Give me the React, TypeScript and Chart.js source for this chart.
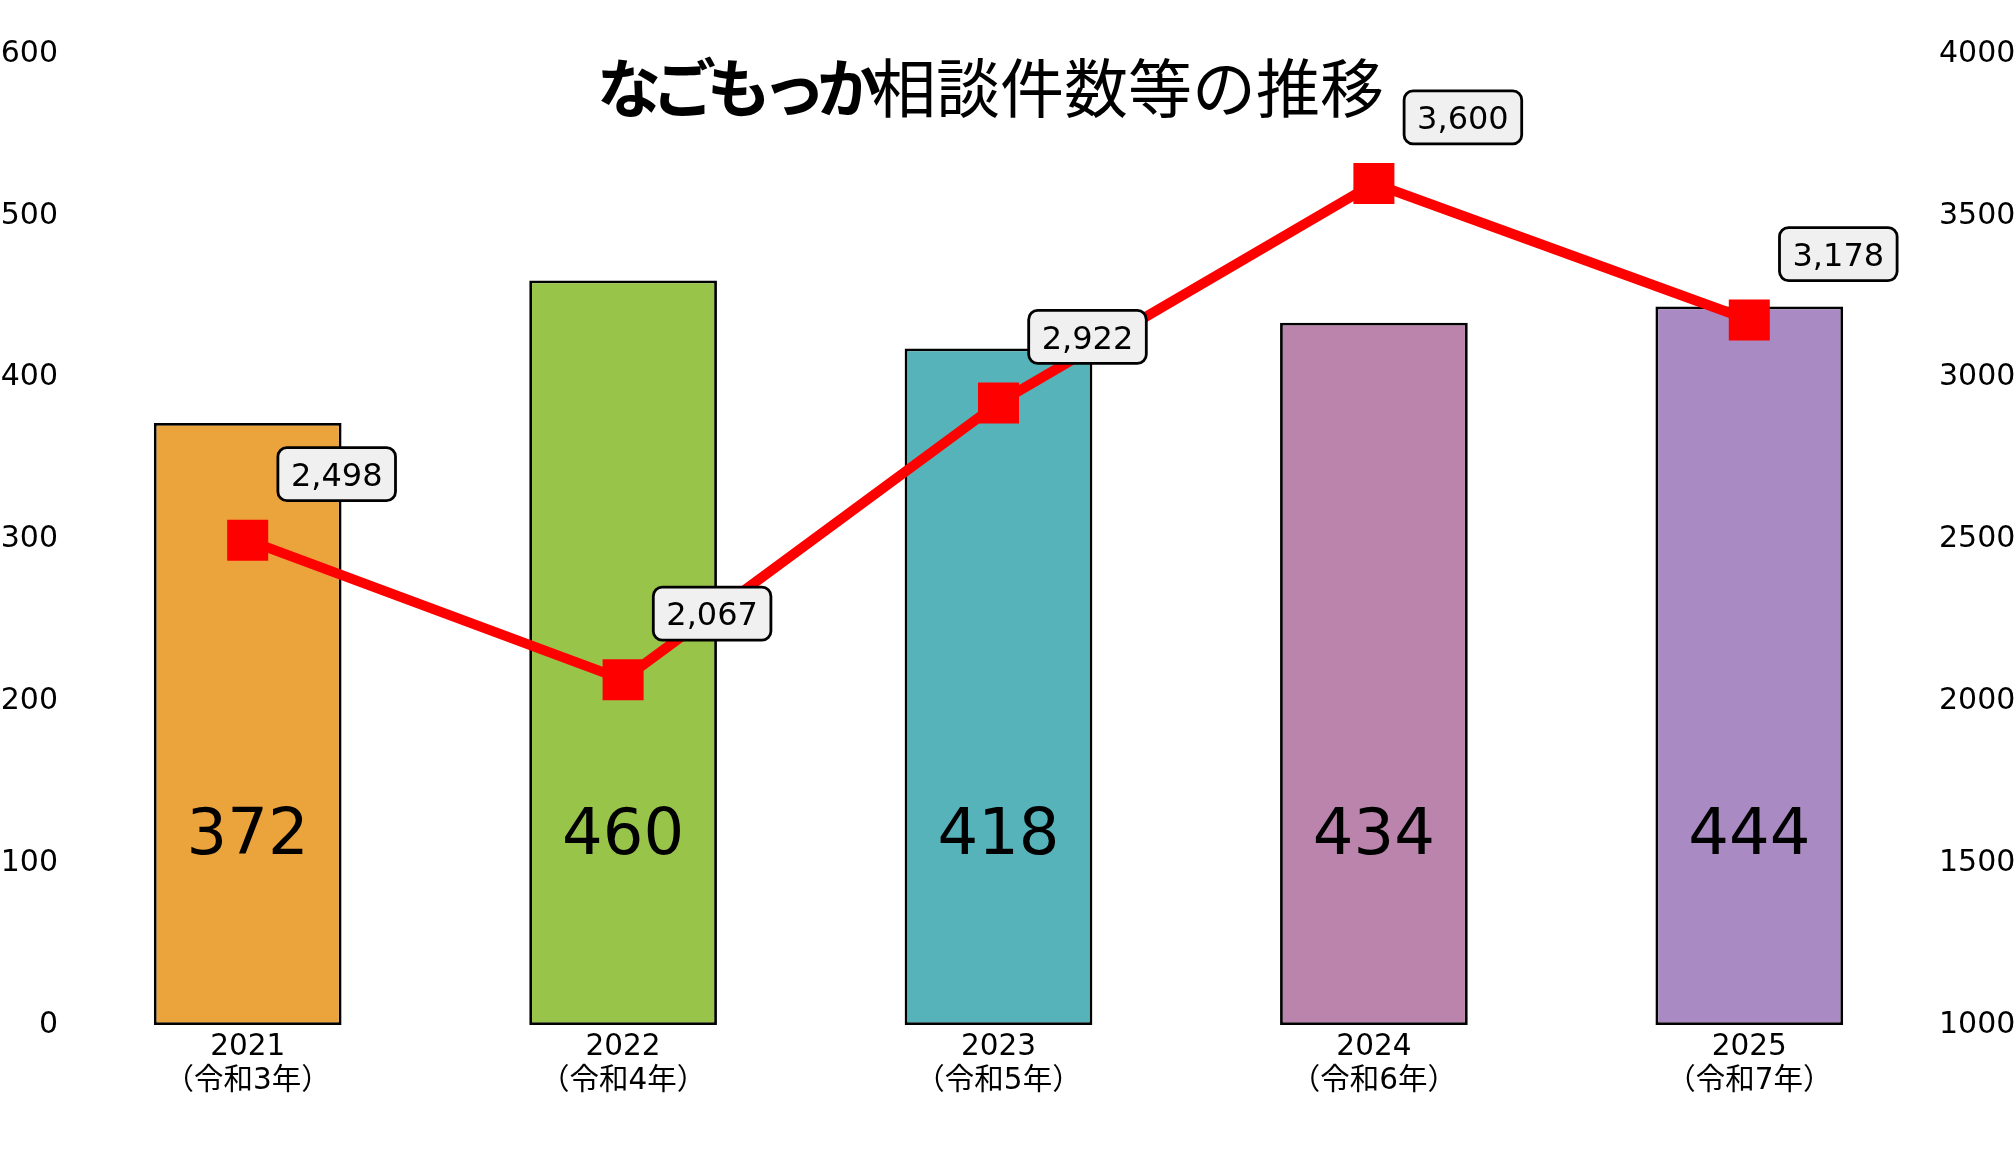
import React, { useEffect, useRef } from 'react';
import { Chart, registerables } from 'chart.js';

Chart.register(...registerables);

// ---- data ----
const years = ['2021', '2022', '2023', '2024', '2025'];
const eraLabels = ['（令和3年）', '（令和4年）', '（令和5年）', '（令和6年）', '（令和7年）'];
const consultationCounts = [372, 460, 418, 434, 444];
const totalCounts = [2498, 2067, 2922, 3600, 3178];
const barColors = ['#EBA33B', '#98C44A', '#56B3B9', '#BA84AD', '#AA8AC3'];
const leftAxisRange = [0, 600, 100];
const rightAxisRange = [1000, 4000, 500];
const titleBold = 'なごもっか';
const titleRegular = '相談件数等の推移';

const FONT = "'DejaVu Sans', 'Noto Sans CJK JP', sans-serif";
const CJK = "'Noto Sans CJK JP', sans-serif";

const overlayPlugin = {
  id: 'overlay',
  afterDatasetsDraw(chart: any) {
    const ctx: CanvasRenderingContext2D = chart.ctx;
    const yScale = chart.scales.y;
    ctx.save();
    // value labels inside bars
    const barMeta = chart.getDatasetMeta(1);
    ctx.font = `64px ${FONT}`;
    ctx.fillStyle = '#000';
    ctx.textAlign = 'center';
    ctx.textBaseline = 'alphabetic';
    const labelY = yScale.getPixelForValue(120) + 0.3645 * 64;
    barMeta.data.forEach((el: any, i: number) => {
      ctx.fillText(String(consultationCounts[i]), el.x, labelY);
    });
    // boxed annotations for line points
    const lineMeta = chart.getDatasetMeta(0);
    ctx.font = `32px ${FONT}`;
    lineMeta.data.forEach((pt: any, i: number) => {
      const text = totalCounts[i].toLocaleString('en-US');
      const tw = ctx.measureText(text).width;
      const cx = pt.x + 89;
      const cy = pt.y - 66;
      const w = tw + 26;
      const h = 53;
      ctx.beginPath();
      if ((ctx as any).roundRect) {
        (ctx as any).roundRect(cx - w / 2, cy - h / 2, w, h, 9);
      } else {
        ctx.rect(cx - w / 2, cy - h / 2, w, h);
      }
      ctx.fillStyle = '#f0f0f0';
      ctx.fill();
      ctx.lineWidth = 2.8;
      ctx.strokeStyle = '#000';
      ctx.stroke();
      ctx.fillStyle = '#000';
      ctx.fillText(text, cx, cy + 0.3645 * 32);
    });
    ctx.restore();
  },
  afterDraw(chart: any) {
    const ctx: CanvasRenderingContext2D = chart.ctx;
    const area = chart.chartArea;
    ctx.save();
    ctx.fillStyle = '#000';
    ctx.textAlign = 'left';
    ctx.textBaseline = 'alphabetic';
    const size = 64;
    const spacing = -9;
    ctx.font = `bold ${size}px ${CJK}`;
    const boldChars = Array.from(titleBold);
    let boldW = 0;
    boldChars.forEach((c) => (boldW += ctx.measureText(c).width + spacing));
    ctx.font = `${size}px ${CJK}`;
    const regW = ctx.measureText(titleRegular).width;
    const total = boldW + regW;
    const center = (area.left + area.right) / 2 - 8;
    let x = center - total / 2;
    const baseline = 112;
    ctx.font = `bold ${size}px ${CJK}`;
    boldChars.forEach((c) => {
      ctx.fillText(c, x, baseline);
      x += ctx.measureText(c).width + spacing;
    });
    ctx.font = `${size}px ${CJK}`;
    ctx.fillText(titleRegular, x, baseline);
    ctx.restore();
  },
};

export default function App() {
  const canvasRef = useRef<HTMLCanvasElement | null>(null);

  useEffect(() => {
    document.body.style.margin = '0';
    if (!canvasRef.current) return;
    Chart.defaults.font.family = FONT;
    const plainTick = (v: any) => String(v);
    const chart = new Chart(canvasRef.current, {
      type: 'bar',
      data: {
        labels: years.map((y, i) => [y, eraLabels[i]]),
        datasets: [
          {
            type: 'line',
            label: '総件数',
            data: totalCounts,
            yAxisID: 'y1',
            borderColor: '#ff0000',
            backgroundColor: '#ff0000',
            borderWidth: 10,
            pointStyle: 'rect',
            pointRadius: 29,
            pointHoverRadius: 29,
            pointBackgroundColor: '#ff0000',
            pointBorderWidth: 0,
            borderJoinStyle: 'round',
            tension: 0,
            order: 0,
          } as any,
          {
            type: 'bar',
            label: '相談件数',
            data: consultationCounts,
            yAxisID: 'y',
            backgroundColor: barColors,
            borderColor: '#000',
            borderWidth: 2.8,
            borderSkipped: false,
            categoryPercentage: 1,
            barPercentage: 0.5,
            order: 1,
          } as any,
        ],
      },
      options: {
        responsive: true,
        maintainAspectRatio: false,
        animation: false,
        layout: { padding: { top: 54, left: 0, right: 0, bottom: 0 } },
        plugins: {
          legend: { display: false },
          tooltip: { enabled: false },
          title: { display: false },
        },
        scales: {
          x: {
            type: 'category',
            offset: true,
            grid: { display: false, drawTicks: false },
            border: { display: false },
            ticks: {
              color: '#000',
              font: { size: 29.5, family: FONT, lineHeight: 1.15 },
              padding: 5,
              maxRotation: 0,
              autoSkip: false,
            },
            afterFit(scale: any) {
              scale.height = 137;
            },
          },
          y: {
            type: 'linear',
            position: 'left',
            min: leftAxisRange[0],
            max: leftAxisRange[1],
            grid: { display: false, drawTicks: false },
            border: { display: false },
            ticks: {
              stepSize: leftAxisRange[2],
              color: '#000',
              font: { size: 30, family: FONT },
              padding: 2,
              callback: plainTick,
            },
            afterFit(scale: any) {
              scale.width = 60;
            },
          },
          y1: {
            type: 'linear',
            position: 'right',
            min: rightAxisRange[0],
            max: rightAxisRange[1],
            grid: { display: false, drawTicks: false },
            border: { display: false },
            ticks: {
              stepSize: rightAxisRange[2],
              color: '#000',
              font: { size: 30, family: FONT },
              padding: 2,
              callback: plainTick,
            },
            afterFit(scale: any) {
              scale.width = 78;
            },
          },
        },
      } as any,
      plugins: [overlayPlugin],
    });
    return () => chart.destroy();
  }, []);

  return (
    <div style={{ position: 'relative', width: '2015px', height: '1162px' }}>
      <canvas ref={canvasRef} />
    </div>
  );
}
